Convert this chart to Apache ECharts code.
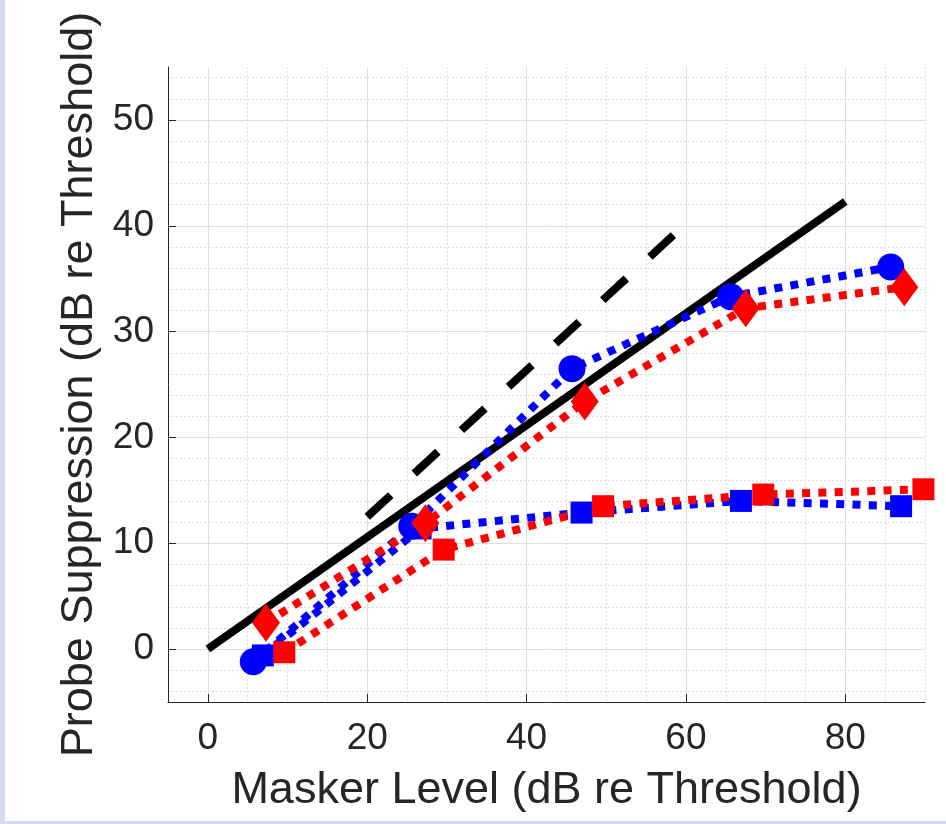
<!DOCTYPE html>
<html>
<head>
<meta charset="utf-8">
<script src="https://cdn.jsdelivr.net/npm/echarts@6/dist/echarts.min.js"></script>
<style>
  html, body { margin: 0; padding: 0; width: 946px; height: 824px; background: #d5d9f1; overflow: hidden; }
  #chart { position: absolute; left: 5px; top: 0; width: 941px; height: 821px; background: #ffffff; }
</style>
</head>
<body>
<div id="chart"></div>
<script>
// Axis ticks
const xMajorTicks = [0, 20, 40, 60, 80];
const xMinorTicks = [5, 10, 15, 25, 30, 35, 45, 50, 55, 65, 70, 75, 85, 90];
const yMajorTicks = [0, 10, 20, 30, 40, 50];
const yMinorTicks = [-4, -2, 2, 4, 6, 8, 12, 14, 16, 18, 22, 24, 26, 28, 32, 34, 36, 38, 42, 44, 46, 48, 52, 54];

// Reference lines
const solidRefX = [0, 80];
const solidRefY = [0, 42.3];
const dashedRefX = [20, 60];
const dashedRefY = [12.5, 40.2];

// Measured suppression
const blueCircleX = [5.7, 25.6, 45.7, 65.6, 85.7];
const blueCircleY = [-1.2, 11.6, 26.5, 33.3, 36.1];
const blueSquareX = [6.9, 26.7, 46.9, 66.9, 87.0];
const blueSquareY = [-0.6, 11.4, 12.9, 14.0, 13.5];
const redDiamondX = [7.3, 27.3, 47.3, 67.5, 87.4];
const redDiamondY = [2.5, 11.9, 23.4, 32.2, 34.2];
const redSquareX = [9.6, 29.6, 49.6, 69.7, 89.8];
const redSquareY = [-0.3, 9.4, 13.5, 14.6, 15.1];

const pairs = (xs, ys) => xs.map((x, i) => [x, ys[i]]);

const TEXT = '#262626';
const FONT = '"Liberation Sans", Arial, Helvetica, sans-serif';
const X_RANGE = { min: -5, max: 90 };
const Y_RANGE = { min: -5, max: 55 };

const dotted = { type: [8, 8.3], cap: 'butt', width: 8 };

function markerSeries(xs, ys, color, symbol, size) {
  return {
    type: 'line',
    data: pairs(xs, ys),
    symbol: symbol,
    symbolSize: size,
    showSymbol: true,
    itemStyle: { color: color, borderWidth: 0 },
    lineStyle: Object.assign({ color: color }, dotted),
    emphasis: { disabled: true },
    silent: true,
    clip: false
  };
}

const chart = echarts.init(document.getElementById('chart'), null, { renderer: 'canvas' });

chart.setOption({
  animation: false,
  backgroundColor: '#ffffff',
  grid: { left: 163, top: 67, width: 757, height: 635, containLabel: false },
  xAxis: [
    {
      type: 'value', min: X_RANGE.min, max: X_RANGE.max, position: 'bottom',
      axisLine: { show: true, onZero: false, lineStyle: { color: TEXT, width: 1 } },
      axisTick: { show: true, inside: true, length: 8, customValues: xMajorTicks, lineStyle: { color: TEXT, width: 1 } },
      axisLabel: { show: true, customValues: xMajorTicks, margin: 18, color: TEXT, fontSize: 37, fontFamily: FONT },
      splitLine: { show: true, lineStyle: { color: '#dedede', width: 1, type: 'solid' } },
      name: 'Masker Level (dB re Threshold)',
      nameLocation: 'middle', nameGap: 66,
      nameTextStyle: { color: TEXT, fontSize: 45, fontFamily: FONT }
    },
    {
      type: 'value', min: X_RANGE.min, max: X_RANGE.max, position: 'top',
      axisLine: { show: false },
      axisTick: { show: false, customValues: xMinorTicks },
      axisLabel: { show: false, customValues: xMinorTicks },
      splitLine: { show: true, lineStyle: { color: '#dcdcdc', width: 1, type: [2, 2] } }
    }
  ],
  yAxis: [
    {
      type: 'value', min: Y_RANGE.min, max: Y_RANGE.max, position: 'left',
      axisLine: { show: true, onZero: false, lineStyle: { color: TEXT, width: 1 } },
      axisTick: { show: true, inside: true, length: 8, customValues: yMajorTicks, lineStyle: { color: TEXT, width: 1 } },
      axisLabel: { show: true, customValues: yMajorTicks, margin: 14, color: TEXT, fontSize: 37, fontFamily: FONT },
      splitLine: { show: true, lineStyle: { color: '#dedede', width: 1, type: 'solid' } },
      name: 'Probe Suppression (dB re Threshold)',
      nameLocation: 'middle', nameGap: 66, nameRotate: 90,
      nameTextStyle: { color: TEXT, fontSize: 45, fontFamily: FONT }
    },
    {
      type: 'value', min: Y_RANGE.min, max: Y_RANGE.max, position: 'right',
      axisLine: { show: false },
      axisTick: { show: false, customValues: yMinorTicks },
      axisLabel: { show: false, customValues: yMinorTicks },
      splitLine: { show: true, lineStyle: { color: '#dcdcdc', width: 1, type: [2, 2] } }
    }
  ],
  series: [
    {
      type: 'line', data: pairs(solidRefX, solidRefY), symbol: 'none',
      lineStyle: { color: '#000000', width: 8, type: 'solid', cap: 'butt' },
      silent: true, emphasis: { disabled: true }
    },
    {
      type: 'line', data: pairs(dashedRefX, dashedRefY), symbol: 'none',
      lineStyle: { color: '#000000', width: 8, type: [32, 32], cap: 'butt' },
      silent: true, emphasis: { disabled: true }
    },
    markerSeries(blueSquareX, blueSquareY, '#0000ff', 'rect', 22),
    markerSeries(blueCircleX, blueCircleY, '#0000ff', 'circle', 27),
    markerSeries(redDiamondX, redDiamondY, '#ff0000', 'diamond', [28, 38]),
    markerSeries(redSquareX, redSquareY, '#ff0000', 'rect', 22)
  ]
});
</script>
</body>
</html>
